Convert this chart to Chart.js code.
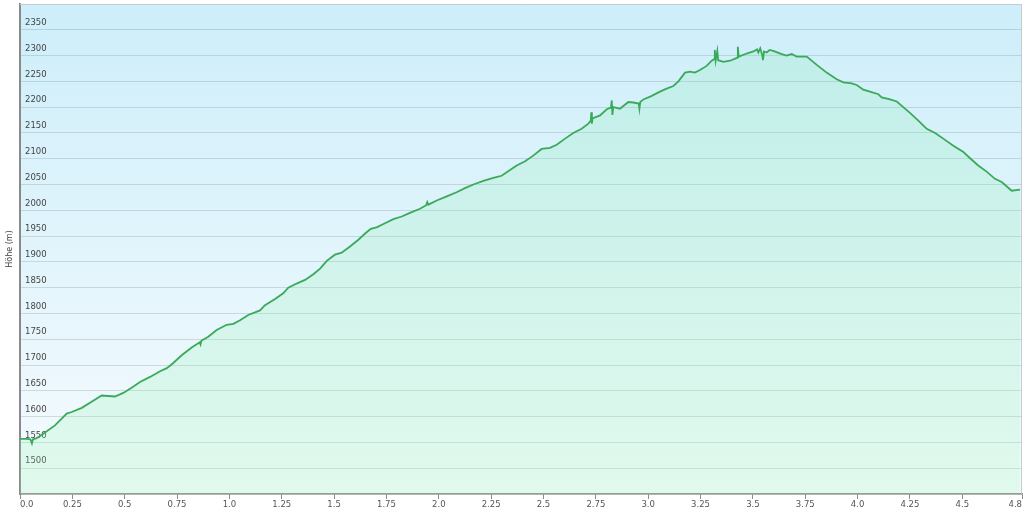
<!DOCTYPE html>
<html>
<head>
<meta charset="utf-8">
<script src="https://cdn.jsdelivr.net/npm/chart.js@4/dist/chart.umd.min.js"></script>
<style>
  html, body { margin: 0; padding: 0; background: #fff; }
  #wrap { width: 1024px; height: 512px; }
</style>
</head>
<body>
<div id="wrap"><canvas id="profile"></canvas></div>
<script>
// elevation profile
const distanceKm = [
  0.000, 0.030, 0.050, 0.057, 0.062, 0.080, 0.111, 0.167, 0.223, 0.247,
  0.295, 0.342, 0.390, 0.422, 0.454, 0.493, 0.533, 0.573, 0.621, 0.669,
  0.701, 0.732, 0.772, 0.820, 0.858, 0.862, 0.866, 0.899, 0.939, 0.987,
  1.019, 1.051, 1.090, 1.122, 1.146, 1.170, 1.218, 1.257, 1.281, 1.321,
  1.361, 1.401, 1.433, 1.465, 1.504, 1.536, 1.576, 1.616, 1.648, 1.675,
  1.703, 1.743, 1.783, 1.823, 1.862, 1.910, 1.940, 1.945, 1.950, 1.990,
  2.038, 2.085, 2.125, 2.165, 2.213, 2.260, 2.300, 2.340, 2.372, 2.412,
  2.451, 2.491, 2.531, 2.563, 2.603, 2.642, 2.682, 2.714, 2.726, 2.728,
  2.731, 2.734, 2.770, 2.802, 2.822, 2.826, 2.829, 2.833, 2.865, 2.905,
  2.929, 2.955, 2.958, 2.962, 2.977, 3.017, 3.056, 3.088, 3.120, 3.144,
  3.176, 3.200, 3.223, 3.247, 3.279, 3.303, 3.315, 3.318, 3.322, 3.330,
  3.334, 3.359, 3.391, 3.415, 3.425, 3.428, 3.432, 3.470, 3.502, 3.520,
  3.526, 3.535, 3.545, 3.548, 3.553, 3.566, 3.580, 3.597, 3.638, 3.661,
  3.685, 3.709, 3.757, 3.805, 3.852, 3.900, 3.932, 3.972, 3.996, 4.027,
  4.059, 4.099, 4.115, 4.155, 4.187, 4.218, 4.250, 4.290, 4.330, 4.370,
  4.409, 4.457, 4.505, 4.537, 4.576, 4.616, 4.656, 4.688, 4.736, 4.776
];
const elevationM = [
  1557, 1557, 1556, 1548, 1556, 1558, 1567, 1583, 1606, 1609,
  1617, 1629, 1641, 1640, 1639, 1646, 1656, 1667, 1677, 1688,
  1694, 1704, 1719, 1734, 1744, 1740, 1747, 1755, 1768, 1778,
  1780, 1787, 1797, 1802, 1806, 1816, 1828, 1839, 1850, 1858,
  1865, 1876, 1887, 1902, 1914, 1918, 1930, 1943, 1955, 1964,
  1967, 1975, 1983, 1988, 1995, 2003, 2010, 2016, 2011, 2019,
  2027, 2035, 2043, 2050, 2057, 2063, 2067, 2078, 2087, 2095,
  2106, 2119, 2121, 2127, 2139, 2150, 2158, 2168, 2174, 2190,
  2168, 2178, 2184, 2196, 2199, 2213, 2185, 2200, 2197, 2210,
  2209, 2207, 2197, 2210, 2215, 2222, 2230, 2236, 2241, 2250,
  2267, 2269, 2267, 2272, 2280, 2290, 2293, 2311, 2290, 2309,
  2291, 2288, 2290, 2294, 2296, 2317, 2298, 2304, 2308, 2312,
  2306, 2314, 2300, 2291, 2308, 2306, 2311, 2309, 2303, 2300,
  2303, 2298, 2298, 2282, 2267, 2254, 2248, 2246, 2243, 2234,
  2230, 2225, 2219, 2215, 2211, 2200, 2189, 2174, 2158, 2150,
  2139, 2125, 2113, 2101, 2087, 2075, 2061, 2055, 2038, 2040
];
const xTicks = [0, 0.25, 0.5, 0.75, 1, 1.25, 1.5, 1.75, 2, 2.25, 2.5, 2.75,
  3, 3.25, 3.5, 3.75, 4, 4.25, 4.5, 4.785];
const xMax = 4.785;
const yMin = 1450, yMax = 2400, yStep = 50;
const yTitle = 'Höhe (m)';

const points = distanceKm.map((d, i) => ({ x: d, y: elevationM[i] }));

const plotBackground = {
  id: 'plotBackground',
  beforeDraw(chart) {
    const { ctx, chartArea: a } = chart;
    const g = ctx.createLinearGradient(0, a.top, 0, a.bottom);
    g.addColorStop(0, '#cdeefa');
    g.addColorStop(1, '#f6fbfe');
    ctx.save();
    ctx.fillStyle = g;
    ctx.fillRect(a.left, a.top, a.right - a.left, a.bottom - a.top);
    ctx.restore();
  },
  afterDraw(chart) {
    const { ctx, chartArea: a } = chart;
    ctx.save();
    ctx.strokeStyle = '#c4ccd0';
    ctx.lineWidth = 1;
    ctx.beginPath();
    ctx.moveTo(a.left, a.top + 0.5);
    ctx.lineTo(a.right - 0.5, a.top + 0.5);
    ctx.lineTo(a.right - 0.5, a.bottom);
    ctx.stroke();
    ctx.restore();
  }
};

new Chart(document.getElementById('profile'), {
  type: 'line',
  data: {
    datasets: [{
      data: points,
      borderColor: '#3aa95a',
      borderWidth: 1.8,
      pointRadius: 0,
      tension: 0,
      fill: 'start',
      backgroundColor: (c) => {
        const a = c.chart.chartArea;
        if (!a) return 'rgba(120,235,160,0.2)';
        const g = c.chart.ctx.createLinearGradient(0, a.top, 0, a.bottom);
        g.addColorStop(0, 'rgba(120,230,160,0.18)');
        g.addColorStop(1, 'rgba(150,245,175,0.22)');
        return g;
      }
    }]
  },
  options: {
    responsive: true,
    maintainAspectRatio: false,
    animation: false,
    layout: { padding: { top: 4, right: 2, left: 0, bottom: 0 } },
    plugins: { legend: { display: false }, tooltip: { enabled: false } },
    scales: {
      x: {
        type: 'linear',
        min: 0,
        max: xMax,
        afterBuildTicks: (s) => { s.ticks = xTicks.map(v => ({ value: v })); },
        afterFit: (s) => { s.height = 18; },
        grid: { drawOnChartArea: false, drawTicks: true, tickLength: 5, color: '#8a8a8a' },
        border: { color: '#8a8a8a', width: 1.5 },
        ticks: {
          align: 'inner',
          padding: 1,
          maxRotation: 0,
          autoSkip: false,
          color: '#555',
          font: { family: 'DejaVu Sans', size: 8.5 },
          callback: (v) => v === xMax ? v.toFixed(1) : (v % 0.5 === 0 ? v.toFixed(1) : v.toFixed(2))
        }
      },
      y: {
        min: yMin,
        max: yMax,
        afterFit: (s) => { s.width = 20; s.paddingTop = 0; s.paddingBottom = 0; },
        grid: { color: 'rgba(90,115,125,0.22)', drawTicks: false },
        border: { color: '#8a8a8a', width: 2 },
        ticks: {
          stepSize: yStep,
          mirror: true,
          padding: 5,
          labelOffset: -7,
          color: '#444',
          font: { family: 'DejaVu Sans', size: 8.5 },
          callback: (v) => (v === yMin || v === yMax) ? '' : String(v)
        },
        title: {
          display: true,
          text: yTitle,
          color: '#444',
          padding: { top: 5, bottom: 0 },
          font: { family: 'DejaVu Sans', size: 8 }
        }
      }
    }
  },
  plugins: [plotBackground]
});
</script>
</body>
</html>
